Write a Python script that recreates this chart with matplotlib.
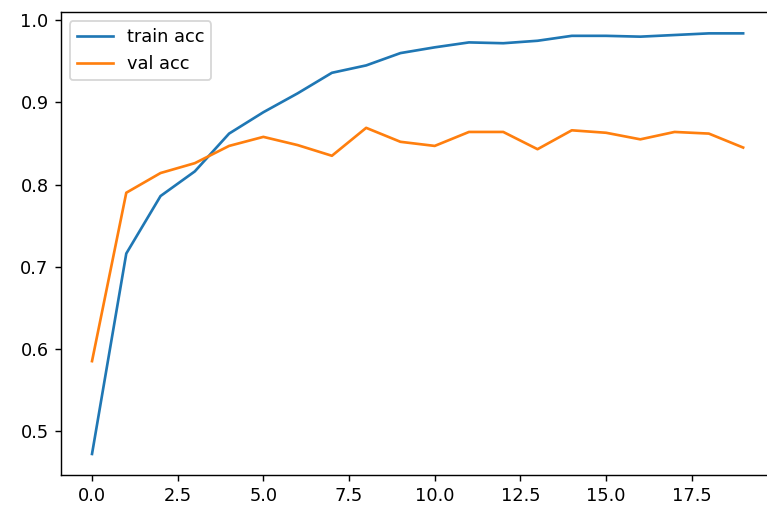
import matplotlib
matplotlib.use('Agg')
import matplotlib.pyplot as plt

# accuracy per epoch
epochs = list(range(20))
train_acc = [0.472, 0.716, 0.786, 0.816, 0.862, 0.888, 0.911, 0.936, 0.945, 0.960,
             0.967, 0.973, 0.972, 0.975, 0.981, 0.981, 0.980, 0.982, 0.984, 0.984]
val_acc = [0.585, 0.790, 0.814, 0.826, 0.847, 0.858, 0.848, 0.835, 0.869, 0.852,
           0.847, 0.864, 0.864, 0.843, 0.866, 0.863, 0.855, 0.864, 0.862, 0.845]

fig = plt.figure(figsize=(767 / 128, 511 / 128), dpi=128)
# the original was cropped on the right, so the axes run past the figure edge
ax = fig.add_axes([61 / 767, 36 / 511, 0.9318, 0.9054])

ax.plot(epochs, train_acc, label='train acc')
ax.plot(epochs, val_acc, label='val acc')
ax.set_xlim(-0.905, 19.95)
ax.legend(loc='upper left')

fig.savefig('out.png', dpi=128)
